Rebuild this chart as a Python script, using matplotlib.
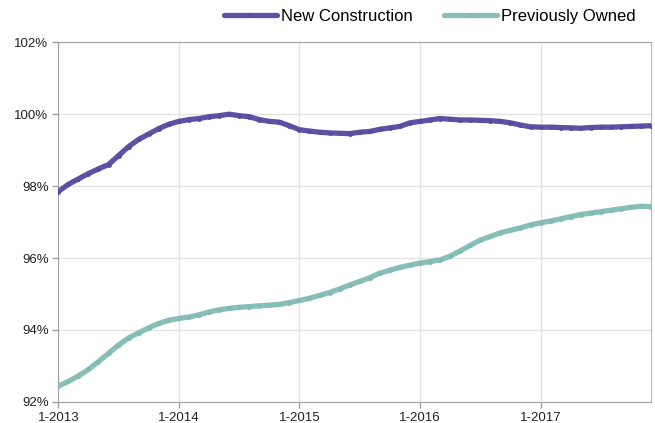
import matplotlib
matplotlib.use("Agg")
from matplotlib import pyplot as plt
from matplotlib.ticker import FuncFormatter

plt.rcParams['font.family'] = ['Liberation Sans', 'DejaVu Sans']

# monthly, Jan 2013 .. Dec 2017
months = list(range(60))
tick_pos = [0, 12, 24, 36, 48]
tick_labels = ["1-2013", "1-2014", "1-2015", "1-2016", "1-2017"]

new_construction = [
    97.85, 98.05, 98.2, 98.35, 98.48, 98.6, 98.85, 99.1, 99.3, 99.45,
    99.6, 99.72, 99.8, 99.85, 99.88, 99.93, 99.96, 100.0, 99.96, 99.93,
    99.85, 99.8, 99.78, 99.68, 99.57, 99.53, 99.5, 99.48, 99.47, 99.46,
    99.5, 99.52, 99.58, 99.62, 99.66, 99.76, 99.8, 99.84, 99.88, 99.86,
    99.84, 99.84, 99.83, 99.82, 99.8, 99.76, 99.7, 99.65, 99.64, 99.64,
    99.63, 99.62, 99.61, 99.63, 99.64, 99.64, 99.65, 99.66, 99.67, 99.68,
]
previously_owned = [
    92.44, 92.57, 92.72, 92.9, 93.12, 93.35, 93.58, 93.78, 93.92, 94.06,
    94.18, 94.27, 94.32, 94.36, 94.42, 94.5, 94.56, 94.6, 94.63, 94.65,
    94.67, 94.69, 94.71, 94.76, 94.82, 94.88, 94.96, 95.04, 95.14, 95.25,
    95.35, 95.45, 95.58, 95.66, 95.74, 95.8, 95.86, 95.9, 95.95, 96.05,
    96.2, 96.35, 96.5, 96.6, 96.7, 96.77, 96.84, 96.92, 96.98, 97.03,
    97.09, 97.15, 97.21, 97.25, 97.29, 97.33, 97.37, 97.41, 97.44, 97.43,
]

fig = plt.figure(figsize=(6.55, 4.23), dpi=100)
ax = fig.add_axes([0.089, 0.05, 0.905, 0.85])

ax.plot(months, new_construction, color="#5f51a3", lw=3.8, marker="o",
        ms=3.5, mfc="#5a4b9e", mec="none", label="New Construction",
        solid_capstyle="round", zorder=3)
ax.plot(months, previously_owned, color="#88c0b9", lw=3.8, marker="o",
        ms=3.5, mfc="#82bbb3", mec="none", label="Previously Owned",
        solid_capstyle="round", zorder=3)

ax.set_xlim(0, 59)
ax.set_ylim(92, 102)
ax.set_yticks([92, 94, 96, 98, 100, 102])
ax.yaxis.set_major_formatter(FuncFormatter(lambda v, p: f"{v:.0f}%"))
ax.set_xticks(tick_pos)
ax.set_xticklabels(tick_labels)

ax.grid(True, color="#e3e3e3", lw=1.0)
ax.set_axisbelow(True)
for s in ["left", "bottom", "top"]:
    ax.spines[s].set_color("#a0a0a0")
ax.spines["right"].set_color("#b8b8b8")
ax.tick_params(axis="both", labelsize=9.5, colors="#a0a0a0",
               labelcolor="#222222", length=4, width=1)
ax.tick_params(axis="y", pad=3)

fig.legend(loc="center right", bbox_to_anchor=(0.971, 0.962), ncol=2,
           frameon=False, fontsize=12, handlelength=3.2, columnspacing=1.85,
           handletextpad=0.25, borderaxespad=0, borderpad=0)

fig.savefig("out.png", dpi=100)
